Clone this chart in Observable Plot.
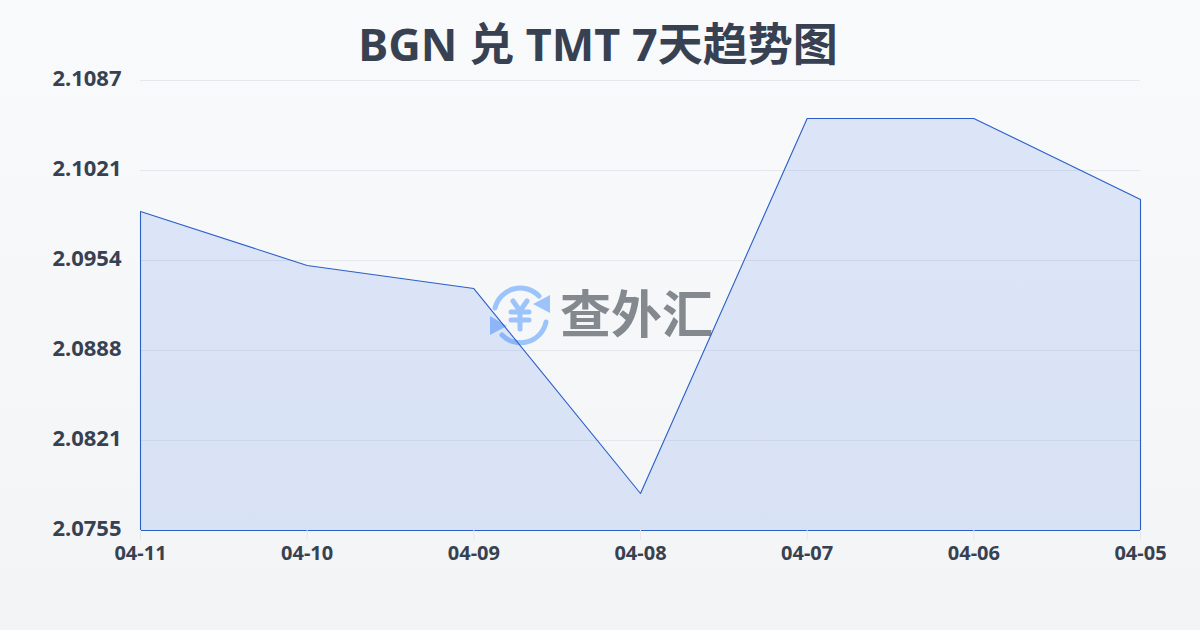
<!DOCTYPE html>
<html lang="zh">
<head>
<meta charset="utf-8">
<script src="https://cdn.jsdelivr.net/npm/d3@7"></script>
<script src="https://cdn.jsdelivr.net/npm/@observablehq/plot@0.6"></script>
<style>
html,body{margin:0;padding:0;width:1200px;height:630px;overflow:hidden}
body{background:linear-gradient(180deg,#f8fafc 0%,#f3f4f6 100%);position:relative;font-family:"Noto Sans","Noto Sans CJK SC",sans-serif}
h1{margin:0;height:70px;line-height:87px;text-align:center;font-size:45px;font-weight:700;color:#374151;font-family:"Noto Sans","Noto Sans CJK SC",sans-serif;position:relative;left:-2px;z-index:2}
#wm{position:absolute;left:480px;top:275px;width:240px;height:80px;z-index:0}
#chart{position:absolute;left:0;top:70px;z-index:1}
#chart svg{background:transparent;overflow:visible;display:block}
</style>
</head>
<body>
<h1>BGN 兑 TMT 7天趋势图</h1>
<svg id="wm" viewBox="0 0 240 80">
  <g fill="none" stroke="#9cc3fa" stroke-width="5" stroke-linecap="round">
    <path d="M15 33 A26 26 0 0 1 59 21"/>
    <path d="M66 47 A26 26 0 0 1 22 60"/>
  </g>
  <path d="M70 20 L70 38 L53 29 Z" fill="#9cc3fa"/>
  <path d="M10 41 L10 60 L27 51 Z" fill="#9cc3fa"/>
  <g fill="none" stroke="#9cc3fa" stroke-width="5" stroke-linecap="round" stroke-linejoin="round">
    <path d="M33 26 L40 36 L47 26"/>
    <path d="M40 36 L40 54"/>
    <path d="M31 37 L49 37"/>
    <path d="M31 45 L49 45"/>
  </g>
  <text x="80" y="58" font-size="51" font-weight="700" fill="#84888f" font-family="Noto Sans CJK SC">查外汇</text>
</svg>
<div id="chart"></div>
<script>
const dates = ["04-11","04-10","04-09","04-08","04-07","04-06","04-05"];
const values = [2.09904,2.09505,2.09335,2.07823,2.1059,2.1059,2.09992];
const yTicks = [2.0755,2.08214,2.08878,2.09542,2.10206,2.1087];
const yMin = yTicks[0], yMax = yTicks[yTicks.length-1];
const rows = dates.map((d,i)=>({date:d,value:values[i],base:yMin}));
const plot = Plot.plot({
  width:1200,height:560,
  marginLeft:140,marginRight:60,marginTop:10,marginBottom:100,
  style:{fontFamily:'"Noto Sans","Noto Sans CJK SC",sans-serif',fontWeight:700,background:"transparent",overflow:"visible"},
  x:{type:"point",domain:dates,padding:0,round:false,label:null},
  y:{domain:[yMin,yMax],label:null},
  marks:[
    Plot.ruleY(yTicks,{stroke:"#e5e7eb",strokeWidth:1}),
    Plot.areaY(rows,{x:"date",y1:"base",y2:"value",fill:"#2563eb",fillOpacity:0.13,stroke:"#2a5fc8",strokeWidth:1.1,dx:0.5,dy:0.5}),
    Plot.axisY({ticks:yTicks,tickFormat:d=>d.toFixed(4),tickSize:0,tickPadding:19,fontSize:22,dy:-2,fill:"#374151",label:null}),
    Plot.axisX({tickSize:10,tickPadding:5,fontSize:20,fill:"#374151",stroke:"#e5e7eb",label:null})
  ]
});
document.getElementById("chart").appendChild(plot);
</script>
</body>
</html>
